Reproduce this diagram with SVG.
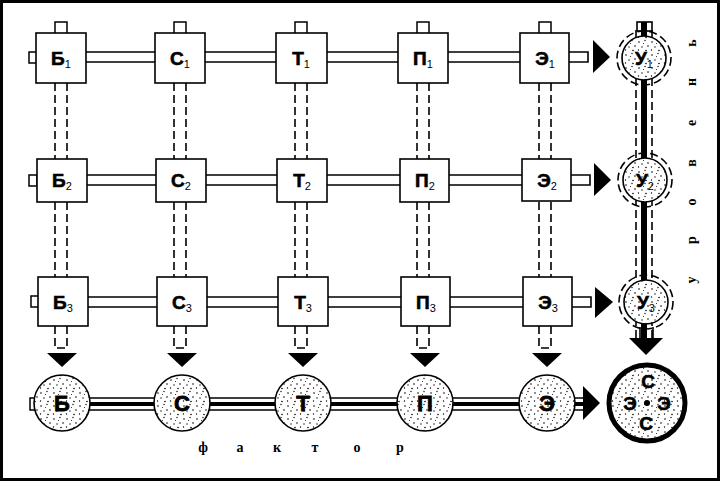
<svg xmlns="http://www.w3.org/2000/svg" width="720" height="481" viewBox="0 0 720 481">
<defs>
<pattern id="dots" width="13" height="13" patternUnits="userSpaceOnUse">
<rect width="13" height="13" fill="#fff"/>
<circle cx="2" cy="3" r="0.8" fill="#000"/>
<circle cx="8" cy="1.5" r="0.7" fill="#000"/>
<circle cx="11" cy="7" r="0.8" fill="#000"/>
<circle cx="5" cy="8" r="0.7" fill="#000"/>
<circle cx="1.5" cy="11" r="0.7" fill="#000"/>
<circle cx="9" cy="11.5" r="0.8" fill="#000"/>
<circle cx="6.5" cy="4.5" r="0.5" fill="#000"/>
</pattern>
<style>
.box{fill:#fff;stroke:#000;stroke-width:1.6}
.ln{stroke:#000;stroke-width:1.6;fill:none}
.dash{stroke:#000;stroke-width:1.6;fill:none;stroke-dasharray:8 4}
.stub{fill:#fff;stroke:#000;stroke-width:1.5}
.tri{fill:#000}
.lbl{font-family:"Liberation Sans",Arial,sans-serif;font-weight:bold;font-size:19px;text-anchor:middle;fill:#000;stroke:#000;stroke-width:0.6}
.sub{font-size:11px;font-weight:normal;stroke:none}
.ball{fill:url(#dots);stroke:#000;stroke-width:1.6}
.big{font-family:"Liberation Sans",Arial,sans-serif;font-weight:bold;font-size:22px;text-anchor:middle;fill:#000;stroke:#000;stroke-width:0.8}
.cap{font-family:"Liberation Serif","Times New Roman",serif;font-weight:bold;font-size:14px;text-anchor:middle;fill:#000}
</style>
</defs>
<rect x="0" y="0" width="720" height="481" fill="#fff"/>
<rect x="1.5" y="1.5" width="717" height="478" fill="none" stroke="#000" stroke-width="3"/>

<g id="connectors">
<path class="ln" d="M61 52H588V62H61M61 175H590V185H61M61 297H591V307H61"/>
<rect class="stub" x="29" y="52" width="8" height="11"/>
<rect class="stub" x="29" y="175" width="8" height="11"/>
<rect class="stub" x="31" y="296" width="8" height="11"/>
<rect class="stub" x="55" y="22" width="12" height="12"/>
<rect class="stub" x="174" y="22" width="12" height="12"/>
<rect class="stub" x="295" y="22" width="12" height="12"/>
<rect class="stub" x="417" y="22" width="12" height="12"/>
<rect class="stub" x="539" y="22" width="12" height="12"/>
<path class="dash" d="M55 83V159M67 83V159M55 202V277M67 202V277M55 326V348H67V326"/>
<path class="dash" d="M174 83V159M186 83V159M174 202V277M186 202V277M174 326V348H186V326"/>
<path class="dash" d="M295 83V159M307 83V159M295 202V277M307 202V277M295 326V348H307V326"/>
<path class="dash" d="M417 83V159M429 83V159M417 202V277M429 202V277M417 326V348H429V326"/>
<path class="dash" d="M539 83V159M551 83V159M539 202V277M551 202V277M539 326V348H551V326"/>
<polygon class="tri" points="47,353 77,353 62,367"/>
<polygon class="tri" points="167,353 197,353 182,367"/>
<polygon class="tri" points="288,353 318,353 303,367"/>
<polygon class="tri" points="410,353 440,353 425,367"/>
<polygon class="tri" points="532,353 562,353 547,367"/>
<polygon class="tri" points="593,40 593,73 610,57"/>
<polygon class="tri" points="594,163 594,196 611,180"/>
<polygon class="tri" points="595,287 595,318 613,302"/>
<path class="ln" d="M35 398H583M35 410H583"/>
<path d="M35 404H583" stroke="#000" stroke-width="4"/>
<rect class="stub" x="30" y="398" width="6" height="12"/>
<polygon class="tri" points="583,386 583,420 600,403"/>
<rect x="637" y="22" width="15" height="9" fill="#fff" stroke="#000" stroke-width="1.6"/>
<path class="dash" d="M636 30V338M652 30V338"/>
<rect x="641" y="22" width="6" height="316" fill="#000"/>
<path class="ln" d="M640 327V338M653 327V338"/>
<polygon class="tri" points="629,338 663,338 646,355"/>
</g>

<g id="B1"><rect class="box" x="36" y="33" width="50" height="50"/><text class="lbl" x="61" y="65">Б<tspan class="sub" dy="3">1</tspan></text></g>
<g id="C1"><rect class="box" x="155" y="33" width="50" height="50"/><text class="lbl" x="180" y="65">С<tspan class="sub" dy="3">1</tspan></text></g>
<g id="T1"><rect class="box" x="276" y="33" width="51" height="50"/><text class="lbl" x="301" y="65">Т<tspan class="sub" dy="3">1</tspan></text></g>
<g id="P1"><rect class="box" x="398" y="33" width="50" height="50"/><text class="lbl" x="423" y="65">П<tspan class="sub" dy="3">1</tspan></text></g>
<g id="E1"><rect class="box" x="520" y="33" width="49" height="50"/><text class="lbl" x="545" y="65">Э<tspan class="sub" dy="3">1</tspan></text></g>

<g id="B2"><rect class="box" x="37" y="159" width="50" height="43"/><text class="lbl" x="62" y="187">Б<tspan class="sub" dy="3">2</tspan></text></g>
<g id="C2"><rect class="box" x="156" y="159" width="50" height="43"/><text class="lbl" x="181" y="187">С<tspan class="sub" dy="3">2</tspan></text></g>
<g id="T2"><rect class="box" x="277" y="159" width="50" height="43"/><text class="lbl" x="302" y="187">Т<tspan class="sub" dy="3">2</tspan></text></g>
<g id="P2"><rect class="box" x="400" y="159" width="49" height="43"/><text class="lbl" x="425" y="187">П<tspan class="sub" dy="3">2</tspan></text></g>
<g id="E2"><rect class="box" x="522" y="159" width="49" height="42"/><text class="lbl" x="547" y="187">Э<tspan class="sub" dy="3">2</tspan></text></g>

<g id="B3"><rect class="box" x="38" y="277" width="50" height="49"/><text class="lbl" x="63" y="309">Б<tspan class="sub" dy="3">3</tspan></text></g>
<g id="C3"><rect class="box" x="157" y="277" width="50" height="49"/><text class="lbl" x="182" y="309">С<tspan class="sub" dy="3">3</tspan></text></g>
<g id="T3"><rect class="box" x="278" y="277" width="50" height="49"/><text class="lbl" x="303" y="309">Т<tspan class="sub" dy="3">3</tspan></text></g>
<g id="P3"><rect class="box" x="401" y="277" width="49" height="49"/><text class="lbl" x="426" y="309">П<tspan class="sub" dy="3">3</tspan></text></g>
<g id="E3"><rect class="box" x="523" y="277" width="49" height="49"/><text class="lbl" x="548" y="309">Э<tspan class="sub" dy="3">3</tspan></text></g>

<g id="U1"><circle cx="644" cy="58" r="27" fill="#fff" class="dash"/><circle class="ball" cx="644" cy="58" r="22"/><text class="lbl" x="644" y="65">У<tspan class="sub" dy="3">1</tspan></text></g>
<g id="U2"><circle cx="645" cy="180" r="27" fill="#fff" class="dash"/><circle class="ball" cx="645" cy="180" r="22"/><text class="lbl" x="645" y="187">У<tspan class="sub" dy="3">2</tspan></text></g>
<g id="U3"><circle cx="646" cy="302" r="27" fill="#fff" class="dash"/><circle class="ball" cx="646" cy="302" r="22"/><text class="lbl" x="646" y="309">У<tspan class="sub" dy="3">3</tspan></text></g>

<g id="fB"><circle class="ball" cx="62" cy="403" r="28"/><text class="big" x="62" y="411">Б</text></g>
<g id="fC"><circle class="ball" cx="182" cy="403" r="28"/><text class="big" x="182" y="411">С</text></g>
<g id="fT"><circle class="ball" cx="303" cy="403" r="28"/><text class="big" x="303" y="411">Т</text></g>
<g id="fP"><circle class="ball" cx="425" cy="403" r="28"/><text class="big" x="425" y="411">П</text></g>
<g id="fE"><circle class="ball" cx="547" cy="403" r="28"/><text class="big" x="547" y="411">Э</text></g>

<g id="total"><circle cx="647" cy="403" r="38" fill="url(#dots)" stroke="#000" stroke-width="5"/>
<text class="lbl" x="648" y="388" font-size="20">С</text>
<text class="lbl" x="630" y="410">Э</text>
<text class="lbl" x="664" y="410">Э</text>
<circle cx="647" cy="403" r="3" fill="#000"/>
<text class="lbl" x="646" y="430" font-size="16">С</text>
</g>

<g id="labels">
<text class="cap" transform="translate(696,161) rotate(-90)" x="-119 -79 -41 -2 38 79 118" y="0">уровень</text>
<text class="cap" x="203 240 277 315 357 400" y="452">фактор</text>
</g>
</svg>
